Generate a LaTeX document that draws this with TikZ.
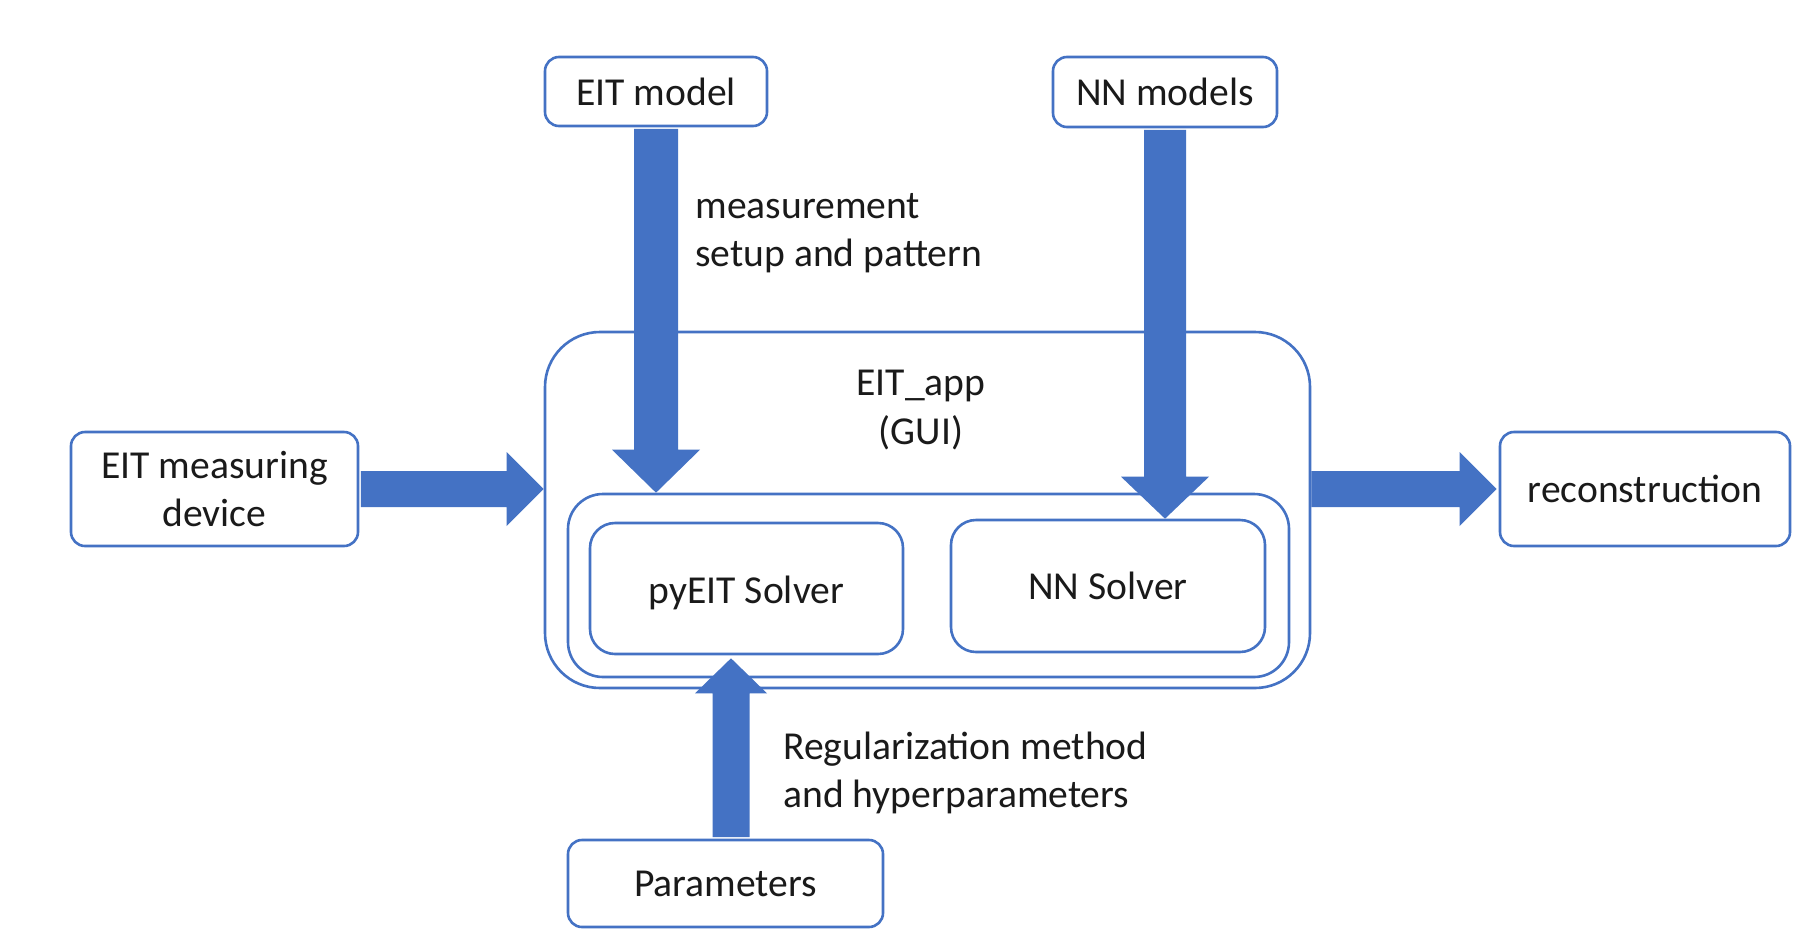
\documentclass[tikz,border=0pt]{standalone}
\usepackage{fontspec}
\setmainfont{Carlito}
\usetikzlibrary{calc}
\definecolor{ppblue}{HTML}{4472C4}
\definecolor{txtc}{HTML}{1A1A1A}
\begin{document}
\begin{tikzpicture}[x=0.5pt,y=-0.5pt,
  box/.style={draw=ppblue,line width=1.3pt,rounded corners=7pt,fill=white,align=center,inner sep=0pt,text=txtc,font=\fontsize{19.8pt}{23.8pt}\selectfont},
  txt/.style={align=center,inner sep=0pt,text=txtc,font=\fontsize{19.8pt}{24.5pt}\selectfont},
  lbl/.style={align=left,inner sep=0pt,anchor=west,text=txtc,font=\fontsize{19.8pt}{23.8pt}\selectfont},
  blk/.style={fill=ppblue,draw=none}]
\useasboundingbox (0,0) rectangle (1813,937);
\fill[white] (0,0) rectangle (1813,937);
% containers
\node[box,rounded corners=27.5pt,minimum width=382.5pt,minimum height=178pt] (app) at (927.5,510) {};
\node[box,rounded corners=17.5pt,minimum width=360.5pt,minimum height=91.5pt] (solvers) at (928.5,585.5) {};
\node[box,rounded corners=12.5pt,minimum width=156.5pt,minimum height=65.5pt] (pyeit) at (746.5,588.5) {\raisebox{-2pt}[\height][\depth]{pyEIT Solver}};
\node[box,rounded corners=12.5pt,minimum width=157pt,minimum height=66pt] (nnsolver) at (1108,586) {NN Solver};
\node[txt] (apptitle) at (921,410) {EIT\_app\\(GUI)};
% outer boxes
\node[box,minimum width=111pt,minimum height=34.5pt] (eitmodel) at (656,91.5) {EIT model};
\node[box,minimum width=112pt,minimum height=35pt] (nnmodels) at (1165,92) {NN models};
\node[box,minimum width=143.5pt,minimum height=57pt] (device) at (214.5,489) {EIT measuring\\device};
\node[box,minimum width=145pt,minimum height=57pt] (recon) at (1645,489) {reconstruction};
\node[box,minimum width=157.5pt,minimum height=43.5pt] (params) at (725.5,883.5) {Parameters};
% labels
\node[lbl] (lblmeas) at (695,233) {measurement\\setup and pattern};
\node[lbl] (lblreg) at (783,773) {Regularization method\\and hyperparameters};
% arrow end points
\coordinate (s1) at ($(eitmodel.south)+(0,1.5)$);
\coordinate (t1) at (eitmodel.south |- solvers.north);
\coordinate (s2) at ($(nnmodels.south)+(0,1.5)$);
\coordinate (t2) at (nnmodels.south |- nnsolver.north);
\coordinate (s3) at ($(device.east)+(1.5,0)$);
\coordinate (t3) at (device.east -| app.west);
\coordinate (s4) at (recon.west -| app.east);
\coordinate (t4) at ($(recon.west)+(-2,0)$);
\coordinate (s5) at ($(params.north)+(5.5,-1.5)$);
\coordinate (t5) at ($(s5 |- pyeit.south)+(0,3)$);
% block arrows
\fill[blk] ($(s1)+(-22,0)$) -- ($(s1)+(22,0)$) -- ($(t1)+(22,-43)$) -- ($(t1)+(44,-43)$) -- (t1) -- ($(t1)+(-44,-43)$) -- ($(t1)+(-22,-43)$) -- cycle;
\fill[blk] ($(s2)+(-21,0)$) -- ($(s2)+(21,0)$) -- ($(t2)+(21,-42)$) -- ($(t2)+(44,-42)$) -- (t2) -- ($(t2)+(-44,-42)$) -- ($(t2)+(-21,-42)$) -- cycle;
\fill[blk] ($(s3)+(0,-18)$) -- ($(s3)+(0,18)$) -- ($(t3)+(-37,18)$) -- ($(t3)+(-37,37)$) -- (t3) -- ($(t3)+(-37,-37)$) -- ($(t3)+(-37,-18)$) -- cycle;
\fill[blk] ($(s4)+(0,-18)$) -- ($(s4)+(0,18)$) -- ($(t4)+(-37,18)$) -- ($(t4)+(-37,37)$) -- (t4) -- ($(t4)+(-37,-37)$) -- ($(t4)+(-37,-18)$) -- cycle;
\fill[blk] ($(s5)+(-18.5,0)$) -- ($(s5)+(18.5,0)$) -- ($(t5)+(18.5,35)$) -- ($(t5)+(36,35)$) -- (t5) -- ($(t5)+(-36,35)$) -- ($(t5)+(-18.5,35)$) -- cycle;
\end{tikzpicture}
\end{document}
